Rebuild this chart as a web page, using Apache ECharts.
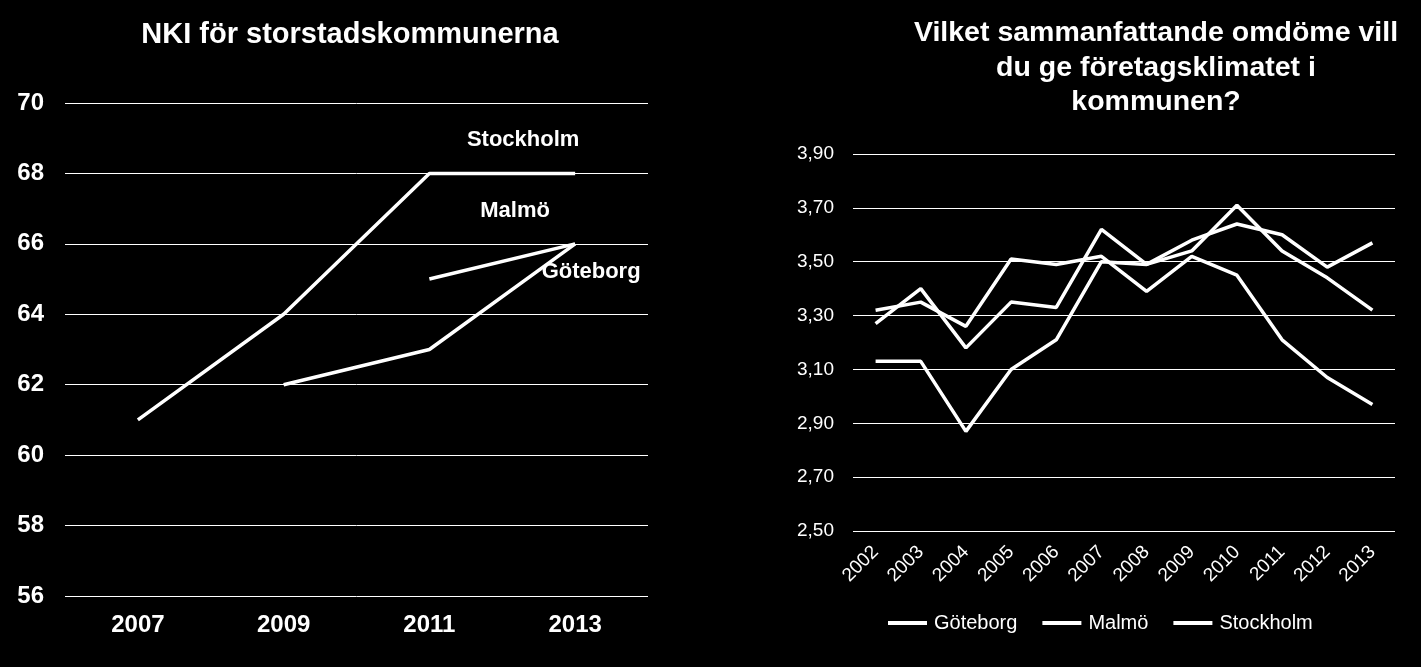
<!DOCTYPE html>
<html><head><meta charset="utf-8">
<script src="https://cdn.jsdelivr.net/npm/echarts@6/dist/echarts.min.js"></script>
<style>html,body{margin:0;padding:0;background:#000;}#c{width:1421px;height:667px;}</style>
</head><body><div id="c"></div>
<script>
// Left chart data
var nkiYears = ['2007', '2009', '2011', '2013'];
var nkiStockholm = [61, 64, 68, 68];
var nkiGoteborg = [null, 62, 63, 66];
var nkiMalmo = [null, null, 65, 66];

// Right chart data
var years = ['2002','2003','2004','2005','2006','2007','2008','2009','2010','2011','2012','2013'];
var goteborg = [3.32, 3.35, 3.26, 3.51, 3.49, 3.52, 3.39, 3.52, 3.45, 3.21, 3.07, 2.97];
var malmo = [3.13, 3.13, 2.87, 3.10, 3.21, 3.50, 3.49, 3.58, 3.64, 3.60, 3.48, 3.57];
var stockholm = [3.27, 3.40, 3.18, 3.35, 3.33, 3.62, 3.49, 3.54, 3.71, 3.54, 3.44, 3.32];

var FONT = '"Liberation Sans", Arial, sans-serif';

function withEndLabel(arr, text, offset) {
  return arr.map(function (v, i) {
    if (i === arr.length - 1) {
      return { value: v, label: { show: true, formatter: text, position: 'inside', offset: offset,
        color: '#fff', fontFamily: FONT, fontWeight: 'bold', fontSize: 22 } };
    }
    return v;
  });
}

var chart = echarts.init(document.getElementById('c'));
var lineStyleW = { color: '#fff', width: 3.5 };
chart.setOption({
  backgroundColor: '#000',
  animation: false,
  title: [
    { text: 'NKI för storstadskommunerna', left: 345, top: 15, textAlign: 'center',
      textStyle: { color: '#fff', fontFamily: FONT, fontWeight: 'bold', fontSize: 29 } },
    { text: 'Vilket sammanfattande omdöme vill\ndu ge företagsklimatet i\nkommunen?', left: 1151, top: 11, textAlign: 'center',
      textStyle: { color: '#fff', fontFamily: FONT, fontWeight: 'bold', fontSize: 28.5, lineHeight: 34.5, align: 'center' } }
  ],
  legend: {
    data: ['Göteborg', 'Malmö', 'Stockholm'],
    left: 888, top: 613, padding: 0, icon: 'rect', itemWidth: 39, itemHeight: 4, itemGap: 25,
    textStyle: { color: '#fff', fontFamily: FONT, fontSize: 20, padding: [0, 0, 0, 2] }
  },
  grid: [
    { left: 65, top: 103, width: 583, height: 493 },
    { left: 853, top: 154, width: 542, height: 377 }
  ],
  xAxis: [
    { gridIndex: 0, type: 'category', data: nkiYears, boundaryGap: true,
      axisLine: { show: false }, axisTick: { show: false },
      axisLabel: { color: '#fff', fontFamily: FONT, fontWeight: 'bold', fontSize: 24, margin: 17 } },
    { gridIndex: 1, type: 'category', data: years, boundaryGap: true,
      axisLine: { show: false }, axisTick: { show: false },
      axisLabel: { color: '#fff', fontFamily: FONT, fontSize: 19, rotate: 45, margin: 18, interval: 0 } }
  ],
  yAxis: [
    { gridIndex: 0, type: 'value', min: 56, max: 70, interval: 2,
      axisLine: { show: false }, axisTick: { show: false },
      splitLine: { lineStyle: { color: '#fff', width: 1 } },
      axisLabel: { color: '#fff', fontFamily: FONT, fontWeight: 'bold', fontSize: 24, margin: 21 } },
    { gridIndex: 1, type: 'value', min: 2.5, max: 3.9, interval: 0.2,
      axisLine: { show: false }, axisTick: { show: false },
      splitLine: { lineStyle: { color: '#fff', width: 1 } },
      axisLabel: { color: '#fff', fontFamily: FONT, fontSize: 19, margin: 19,
        formatter: function (v) { return v.toFixed(2).replace('.', ','); } } }
  ],
  series: [
    { name: 'NKI Stockholm', type: 'line', xAxisIndex: 0, yAxisIndex: 0, symbol: 'circle', symbolSize: 0.1, showSymbol: true,
      data: withEndLabel(nkiStockholm, 'Stockholm', [-52, -33.5]), lineStyle: lineStyleW, itemStyle: { color: '#fff' } },
    { name: 'NKI Göteborg', type: 'line', xAxisIndex: 0, yAxisIndex: 0, symbol: 'circle', symbolSize: 0.1, showSymbol: true,
      data: withEndLabel(nkiGoteborg, 'Göteborg', [16, 28.5]), lineStyle: lineStyleW, itemStyle: { color: '#fff' } },
    { name: 'NKI Malmö', type: 'line', xAxisIndex: 0, yAxisIndex: 0, symbol: 'circle', symbolSize: 0.1, showSymbol: true,
      data: withEndLabel(nkiMalmo, 'Malmö', [-60, -33]), lineStyle: lineStyleW, itemStyle: { color: '#fff' } },
    { name: 'Göteborg', type: 'line', xAxisIndex: 1, yAxisIndex: 1, symbol: 'none',
      data: goteborg, lineStyle: lineStyleW, itemStyle: { color: '#fff' } },
    { name: 'Malmö', type: 'line', xAxisIndex: 1, yAxisIndex: 1, symbol: 'none',
      data: malmo, lineStyle: lineStyleW, itemStyle: { color: '#fff' } },
    { name: 'Stockholm', type: 'line', xAxisIndex: 1, yAxisIndex: 1, symbol: 'none',
      data: stockholm, lineStyle: lineStyleW, itemStyle: { color: '#fff' } }
  ]
});
</script></body></html>
